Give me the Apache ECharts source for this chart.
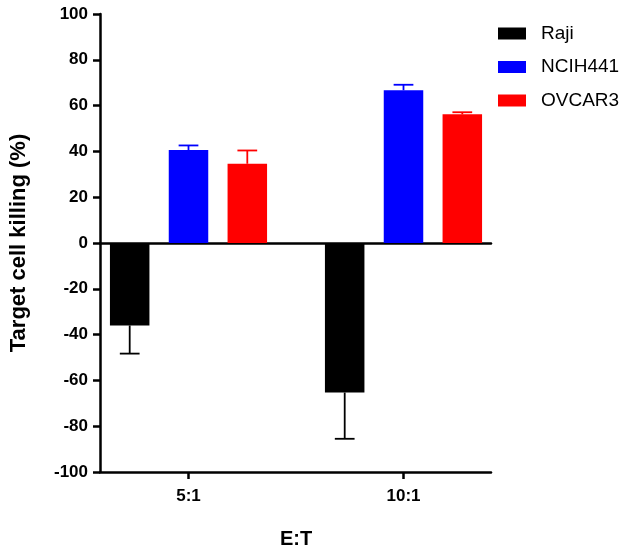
<!DOCTYPE html>
<html>
<head>
<meta charset="utf-8">
<script src="https://cdn.jsdelivr.net/npm/echarts@6/dist/echarts.min.js"></script>
<style>html,body{margin:0;padding:0;background:#fff;}#c{width:630px;height:550px;}</style>
</head>
<body>
<div id="c"></div>
<script>
const categories = ['5:1', '10:1'];
const seriesNames = ['Raji', 'NCIH441', 'OVCAR3'];
const rajiMean = [-36.0, -65.3];
const rajiSD = [12.3, 20.2];
const ncihMean = [40.6, 66.7];
const ncihSD = [2.0, 2.4];
const ovcarMean = [34.6, 56.2];
const ovcarSD = [5.8, 0.9];
const yTicks = { min: -100, max: 100, interval: 20 };
const colors = ['#000000', '#0000FF', '#FF0000'];

const means = [rajiMean, ncihMean, ovcarMean];
const sds = [rajiSD, ncihSD, ovcarSD];
const BAR_W = 39.5, GAP_PX = 19.3;

const font = 'Arial, "Liberation Sans", sans-serif';
const chart = echarts.init(document.getElementById('c'), null, { renderer: 'canvas' });

const errData = [];
for (let s = 0; s < 3; s++) {
  for (let i = 0; i < categories.length; i++) {
    errData.push([i, means[s][i], sds[s][i], s]);
  }
}

const option = {
  animation: false,
  backgroundColor: '#ffffff',
  grid: [
    { left: 100, right: 139, top: 14, bottom: 78, containLabel: false, outerBoundsMode: 'none' },
    { left: 81, right: 119, top: 14, bottom: 78, containLabel: false, outerBoundsMode: 'none' }
  ],
  legend: {
    data: seriesNames,
    orient: 'vertical',
    left: 493, top: 19,
    itemWidth: 28, itemHeight: 12, itemGap: 14.5,
    icon: 'rect',
    textStyle: { fontSize: 19, color: '#000', fontFamily: font, padding: [0, 0, 0, 10] }
  },
  xAxis: [
    { gridIndex: 0, type: 'value', min: 0, max: 1, position: 'bottom',
      axisLine: { show: true, onZero: true, lineStyle: { color: '#000', width: 2.5 } },
      axisTick: { show: false }, axisLabel: { show: false }, splitLine: { show: false } },
    { gridIndex: 0, type: 'value', min: 0, max: 1, position: 'bottom',
      axisLine: { show: true, onZero: false, lineStyle: { color: '#000', width: 2.5 } },
      axisTick: { show: false }, axisLabel: { show: false }, splitLine: { show: false } },
    { gridIndex: 1, type: 'category', data: categories, position: 'bottom',
      axisLine: { show: false, onZero: false },
      axisTick: { show: true, alignWithLabel: true, length: 7, lineStyle: { color: '#000', width: 2.5 } },
      axisLabel: { margin: 16, fontSize: 17, fontWeight: 'bold', color: '#000', fontFamily: font },
      name: 'E:T', nameLocation: 'middle', nameGap: 57,
      nameTextStyle: { fontSize: 20, fontWeight: 'bold', color: '#000', fontFamily: font } }
  ],
  yAxis: [
    { gridIndex: 0, type: 'value', min: yTicks.min, max: yTicks.max, interval: yTicks.interval,
      axisLine: { show: true, lineStyle: { color: '#000', width: 2.5 } },
      axisTick: { show: true, length: 7, lineStyle: { color: '#000', width: 2.5 } },
      axisLabel: { margin: 12, fontSize: 17, fontWeight: 'bold', color: '#000', fontFamily: font },
      splitLine: { show: false },
      name: 'Target cell killing (%)', nameLocation: 'middle', nameGap: 70,
      nameTextStyle: { fontSize: 22, fontWeight: 'bold', color: '#000', fontFamily: font } },
    { gridIndex: 1, type: 'value', min: yTicks.min, max: yTicks.max, interval: yTicks.interval, show: false }
  ],
  series: [
    ...seriesNames.map((n, s) => ({
      name: n, type: 'bar', xAxisIndex: 2, yAxisIndex: 1,
      data: means[s], barWidth: BAR_W, barGap: (GAP_PX / BAR_W * 100).toFixed(1) + '%',
      itemStyle: { color: colors[s] }, z: 2
    })),
    {
      type: 'custom', xAxisIndex: 2, yAxisIndex: 1, z: 3, silent: true,
      data: errData,
      renderItem: function (params, api) {
        const x = api.value(0), m = api.value(1), sd = api.value(2), k = api.value(3);
        const off = (k - 1) * (BAR_W + GAP_PX);
        const p0 = api.coord([x, m]);
        const p1 = api.coord([x, m + Math.sign(m) * sd]);
        const cx = p0[0] + off;
        const half = BAR_W / 4;
        const style = { stroke: colors[k], lineWidth: 1.8 };
        return {
          type: 'group',
          children: [
            { type: 'line', shape: { x1: cx, y1: p0[1], x2: cx, y2: p1[1] }, style: style },
            { type: 'line', shape: { x1: cx - half, y1: p1[1], x2: cx + half, y2: p1[1] }, style: style }
          ]
        };
      }
    }
  ]
};
chart.setOption(option);
</script>
</body>
</html>
